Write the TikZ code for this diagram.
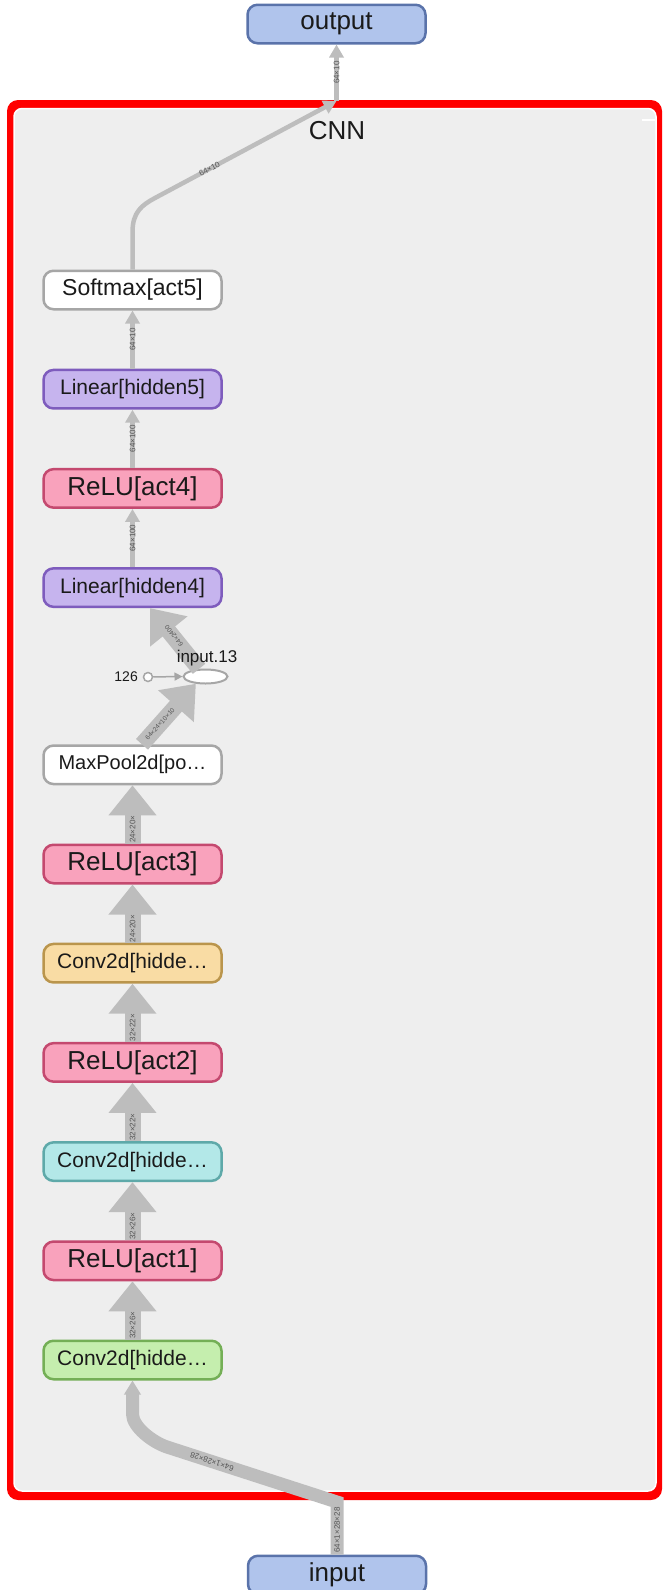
\documentclass[tikz,border=0pt]{standalone}
\usepackage{fontspec}
\setmainfont{Liberation Sans}
\usetikzlibrary{arrows.meta,calc,shapes.geometric}

\definecolor{framered}{HTML}{FF0000}
\definecolor{framegray}{HTML}{EEEEEE}
\definecolor{edgegray}{HTML}{BDBDBD}
\definecolor{labelgray}{HTML}{555555}
\definecolor{txt}{HTML}{1A1A1A}
\definecolor{plainfill}{HTML}{FFFFFF}
\definecolor{plainline}{HTML}{A6A6A6}
\definecolor{linfill}{HTML}{C6B4EE}
\definecolor{linline}{HTML}{7E5CBD}
\definecolor{relufill}{HTML}{F9A2BC}
\definecolor{reluline}{HTML}{C4496F}
\definecolor{iofill}{HTML}{B0C4EC}
\definecolor{ioline}{HTML}{5A73AA}
\definecolor{convafill}{HTML}{C5EEAE}
\definecolor{convaline}{HTML}{74AF56}
\definecolor{convbfill}{HTML}{B3E8E8}
\definecolor{convbline}{HTML}{5EA9A9}
\definecolor{convcfill}{HTML}{F9DCA4}
\definecolor{convcline}{HTML}{BA954C}

\newcommand\setfs[1]{\fontsize{#1}{#1}\selectfont}

\begin{document}
\begin{tikzpicture}[x=1pt,y=-1pt,
  box/.style={rounded corners=10pt, line width=2.5pt, minimum width=178pt,
    minimum height=38.5pt, inner sep=0pt, text=txt, align=center},
  plainbox/.style={box, draw=plainline, fill=plainfill},
  linbox/.style={box, draw=linline, fill=linfill, font=\setfs{21}},
  relubox/.style={box, draw=reluline, fill=relufill, font=\setfs{26}},
  iobox/.style={box, draw=ioline, fill=iofill, font=\setfs{26}},
  convbox/.style={box, font=\setfs{21}},
  thinedge/.style={draw=edgegray, line width=4.5pt, -{Triangle[width=14pt,length=13pt]}},
  fatedge/.style={draw=edgegray, line width=16pt, -{Triangle[width=46pt,length=30pt]}},
  inedge/.style={draw=edgegray, line width=13pt, -{Triangle[width=16pt,length=14pt]}},
  elabel/.style={font=\setfs{8}, text=labelgray, inner sep=0pt},
]
\useasboundingbox (0,0) rectangle (662,1590);

% CNN group frame
\fill[framered, rounded corners=11pt] (7,100) rectangle (662,1500);
\filldraw[fill=framegray, draw=white, line width=1.5pt, rounded corners=8pt] (14,108.5) rectangle (656,1491);
\draw[white, line width=2pt] (642,120) -- (655,120);
\node[font=\setfs{26}, text=txt] (cnnlabel) at (337,131) {CNN};

% outer nodes
\node[iobox] (output) at (336.5,24) {output};
\node[iobox] (input) at (337,1575) {input};

% layer column
\node[plainbox, font=\setfs{23}] (soft) at (132.5,290) {Softmax[act5]};
\node[linbox] (lin5) at (132.5,389.2) {Linear[hidden5]};
\node[relubox] (relu4) at (132.5,488.4) {ReLU[act4]};
\node[linbox] (lin4) at (132.5,587.6) {Linear[hidden4]};
\node[plainbox, font=\setfs{20}] (pool) at (132.5,764.8) {MaxPool2d[po…};
\node[relubox] (relu3) at (132.5,864) {ReLU[act3]};
\node[convbox, draw=convcline, fill=convcfill] (conv3) at (132.5,963.2) {Conv2d[hidde…};
\node[relubox] (relu2) at (132.5,1062.4) {ReLU[act2]};
\node[convbox, draw=convbline, fill=convbfill] (conv2) at (132.5,1161.6) {Conv2d[hidde…};
\node[relubox] (relu1) at (132.5,1260.8) {ReLU[act1]};
\node[convbox, draw=convaline, fill=convafill] (conv1) at (132.5,1360) {Conv2d[hidde…};

% flatten (view) op
\node[ellipse, draw=plainline, fill=white, line width=2pt, minimum width=44pt,
  minimum height=14pt, inner sep=0pt] (flat) at (205.5,676.5) {};
\node[circle, draw=plainline, fill=white, line width=1.5pt, minimum size=9pt,
  inner sep=0pt] (const) at (148,677) {};
\node[font=\setfs{14}, text=txt, anchor=east, inner sep=0pt] (constlabel) at (138,677) {126};

% connection points on the frame
\coordinate (cnntop) at (336.5,101);
\coordinate (cnnbot) at (337,1502);
\coordinate (bendA) at (132.5,232);
\coordinate (bendB) at (155,198);
\coordinate (bendC) at (167,1447);
\coordinate (bendD) at (132.5,1414);

% output side
\draw[thinedge] (cnntop) -- (output.south)
  node[midway, elabel, rotate=90] {64×10};
\draw[thinedge] (soft.north) -- (bendA) .. controls (132.5,212) and (142,205) .. (bendB) -- (cnntop);
\node[elabel, rotate=28] (softlabel) at ($(bendB)!0.3!(cnntop)$) {64×10};

% thin edges
\draw[thinedge] (lin5.north) -- (soft.south) node[midway, elabel, rotate=90] {64×10};
\draw[thinedge] (relu4.north) -- (lin5.south) node[midway, elabel, rotate=90] {64×100};
\draw[thinedge] (lin4.north) -- (relu4.south) node[midway, elabel, rotate=90] {64×100};

% wide edges between conv stages
\newcommand\fatup[3]{%
  \draw[fatedge] (#1.north) -- (#2.south);
  \path (#1.north) -- ($(#2.south)+(0,30)$) node[midway, elabel, rotate=90] {#3};
}
\fatup{conv1}{relu1}{32×26×}
\fatup{relu1}{conv2}{32×26×}
\fatup{conv2}{relu2}{32×22×}
\fatup{relu2}{conv3}{32×22×}
\fatup{conv3}{relu3}{24×20×}
\fatup{relu3}{pool}{24×20×}

% pool -> view -> linear
\coordinate (pooltail) at ($(pool.north)+(9.5,0)$);
\draw[fatedge] (pooltail) -- (flat.217);
\node[elabel, font=\setfs{6.5}, rotate=48] (poollabel) at (160,724) {64×24×10×10};
\coordinate (lintip) at ($(lin4.south)+(17.5,0)$);
\draw[fatedge] (flat.130) -- (lintip);
\node[elabel, font=\setfs{6.5}, rotate=128] (flatlabel) at (174,636) {64×2400};
\draw[draw=plainline, line width=1.5pt, -{Triangle[width=8pt,length=8pt]}] (const) -- (flat.west);
\node[font=\setfs{17}, text=txt, inner sep=0pt] (flatname) at (207,658.5) {input.13};

% input side
\draw[inedge] (input.north) -- (cnnbot) -- (bendC)
  .. controls (153,1442.4) and (132.5,1427) .. (bendD) -- (conv1.south);
\node[elabel, rotate=90] (inlabel) at (337,1530) {64×1×28×28};
\node[elabel, rotate=162] (diaglabel) at (212,1461.7) {64×1×28×28};
\end{tikzpicture}
\end{document}
